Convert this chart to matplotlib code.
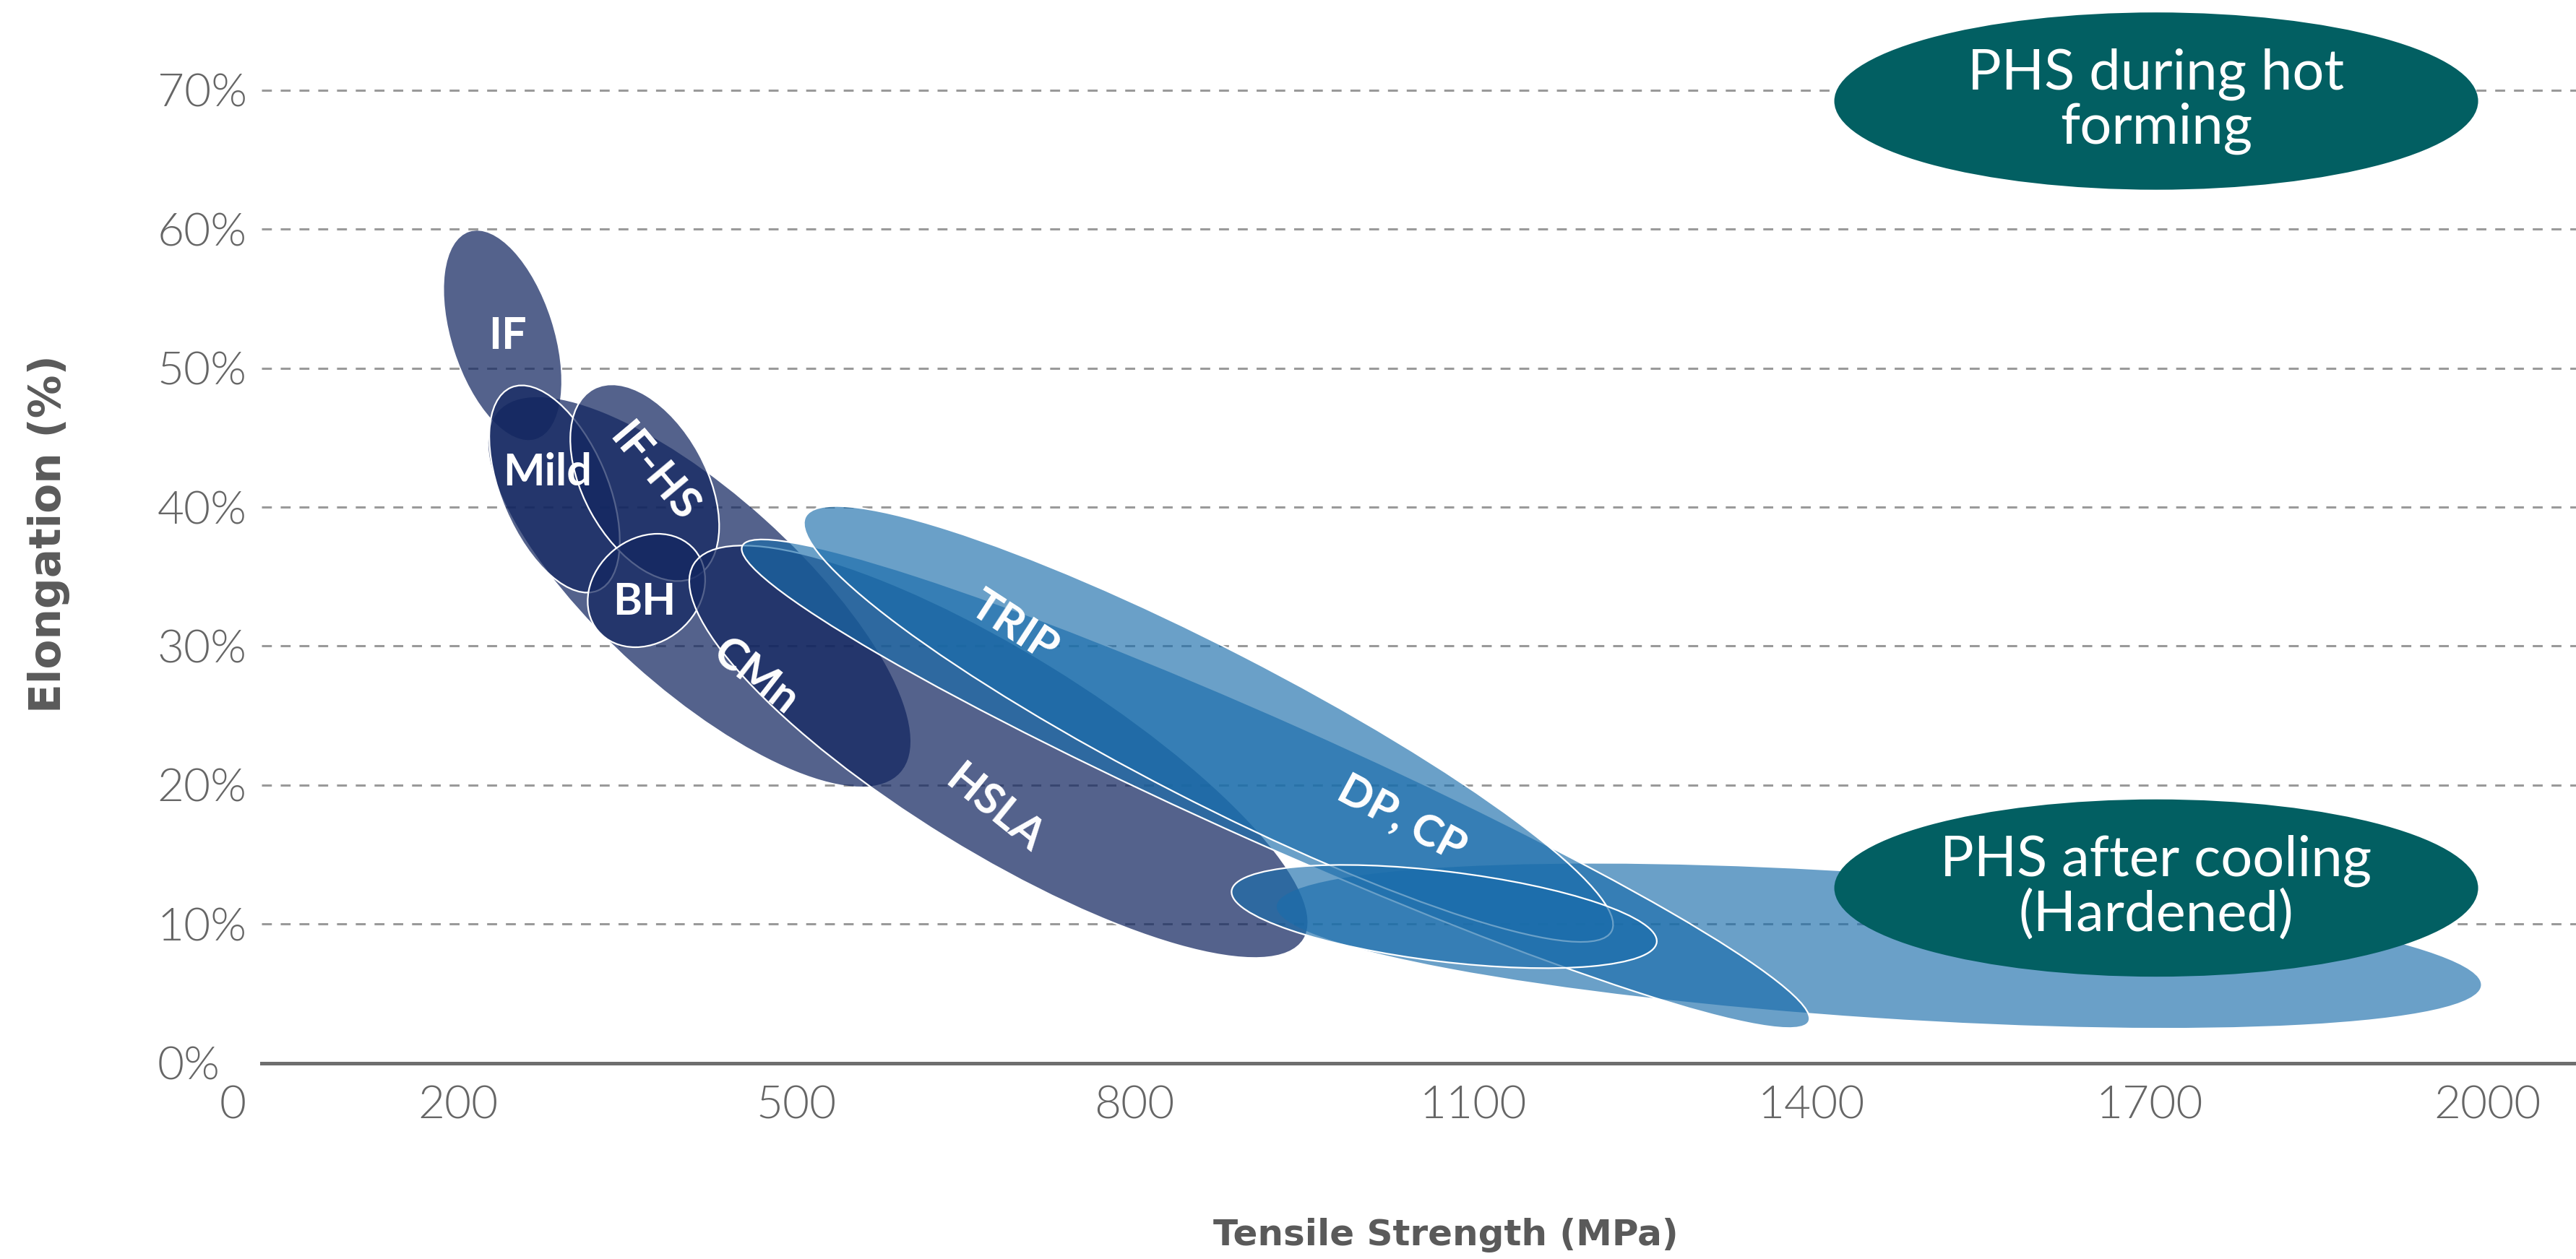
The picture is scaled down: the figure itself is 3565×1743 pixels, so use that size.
import numpy as np
import matplotlib
matplotlib.use("Agg")
import matplotlib.pyplot as plt
from matplotlib.patches import Ellipse
from matplotlib.transforms import Affine2D

plt.rcParams['font.family'] = ['Lato', 'DejaVu Sans']

# steel grade bands: long axis from (ts_start, el_start) to (ts_end, el_end),
# spread = short axis, expressed in MPa-equivalent units
grades = ["IF", "CMn", "Mild", "IF-HS", "BH", "HSLA", "PHS", "DP, CP", "TRIP", "MS"]
ts_start = [210, 236, 247, 320, 410, 409, 926, 452, 508, 886]
el_start = [59.8, 46.9, 48.6, 48.5, 36.9, 35.9, 11.3, 37.2, 39.3, 12.4]
ts_end = [269, 592, 324, 411, 324, 950, 1994, 1398, 1223, 1263]
el_end = [44.9, 20.9, 34.0, 35.0, 31.1, 8.9, 5.6, 3.0, 9.5, 8.7]
spread = [90, 173, 94, 109, 92, 178, 128, 109, 135, 80]
family = ["slate", "slate", "slate", "slate", "slate", "slate", "blue", "blue", "blue", "blue"]
outlined = [False, False, True, True, True, True, False, True, True, True]

# labels written on the bands
label_text = ["IF", "Mild", "IF-HS", "BH", "CMn", "HSLA", "TRIP", "DP, CP"]
label_ts = [244, 279, 374, 365, 464, 676, 693, 1037]
label_el = [52.3, 42.5, 42.5, 33.2, 27.8, 18.3, 31.4, 17.6]
label_rot = [0, 0, -50, 0, -38, -39, -33, -28]

# PHS callouts
phs_text = ["PHS during hot\nforming", "PHS after cooling\n(Hardened)"]
phs_ts = [1706, 1706]
phs_el = [69.2, 12.6]

x_ticks = [0, 200, 500, 800, 1100, 1400, 1700, 2000]
y_ticks = [0, 10, 20, 30, 40, 50, 60, 70]
grid_levels = [10, 20, 30, 40, 50, 60, 70]

colors = {"slate": (18 / 255, 38 / 255, 96 / 255, 0.72),
          "blue": (26 / 255, 109 / 255, 171 / 255, 0.65)}

fig = plt.figure(figsize=(35.65, 17.43), dpi=100)
ax = fig.add_axes([0.0903, 0.1555, 0.9097, 0.8445])
xmax, ymax = 2078.3, 76.47
ax.set_xlim(0, xmax)
ax.set_ylim(0, ymax)

# scale so that ellipses keep their shape on screen
fw, fh = fig.get_size_inches() * fig.dpi
pos = ax.get_position()
k = (pos.height * fh / ymax) / (pos.width * fw / xmax)
squash = Affine2D().scale(1, 1 / k) + ax.transData

ax.hlines(grid_levels, 26, xmax, colors='#9a9a9a', linewidth=2.2,
          linestyles=(0, (4.5, 4)), zorder=0.5)

for i in range(len(grades)):
    x1, y1 = ts_start[i], el_start[i] * k
    x2, y2 = ts_end[i], el_end[i] * k
    length = np.hypot(x2 - x1, y2 - y1)
    angle = np.degrees(np.arctan2(y2 - y1, x2 - x1))
    e = Ellipse(((x1 + x2) / 2, (y1 + y2) / 2), length, spread[i], angle=angle,
                facecolor=colors[family[i]],
                edgecolor='white' if outlined[i] else 'none',
                linewidth=1.6, transform=squash, zorder=2 + i * 0.1)
    ax.add_patch(e)

for t, x, y, r in zip(label_text, label_ts, label_el, label_rot):
    ax.text(x, y, t, color='white', fontsize=44, fontweight='bold', rotation=r,
            ha='center', va='center', rotation_mode='anchor', zorder=5)

for t, x, y in zip(phs_text, phs_ts, phs_el):
    ax.add_patch(Ellipse((x, y), 571, 12.75, facecolor='#025f62',
                         edgecolor='none', zorder=6))
    ax.text(x, y, t, color='white', fontsize=56, ha='center', va='center',
            linespacing=1.05, zorder=7)

ax.set_xticks(x_ticks)
ax.set_xticklabels([str(v) for v in x_ticks], fontsize=46, fontweight=300,
                   color='#666666')
ax.set_yticks(y_ticks)
ax.set_yticklabels([f"{v}%" for v in y_ticks], fontsize=46, fontweight=300,
                   color='#666666', ha='left')
ax.tick_params(axis='x', length=0, pad=22)
ax.tick_params(axis='y', length=0, pad=75)

for s in ['top', 'right', 'left']:
    ax.spines[s].set_visible(False)
ax.spines['bottom'].set_bounds(26, xmax)
ax.spines['bottom'].set_linewidth(3.6)
ax.spines['bottom'].set_color('#6e6e6e')

ax.set_xlabel("Tensile Strength (MPa)", fontsize=36, fontweight='bold',
              color='#5a5a5a', family=['DejaVu Sans'])
ax.xaxis.set_label_coords(0.5177, -0.1617)
ax.xaxis.label.set_va('center')
ax.set_ylabel("Elongation (%)", fontsize=43, fontweight='bold',
              color='#5a5a5a', family=['DejaVu Sans'])
ax.yaxis.set_label_coords(-0.0783, 0.498)
ax.yaxis.label.set_va('center')

fig.savefig("out.png", dpi=100)
